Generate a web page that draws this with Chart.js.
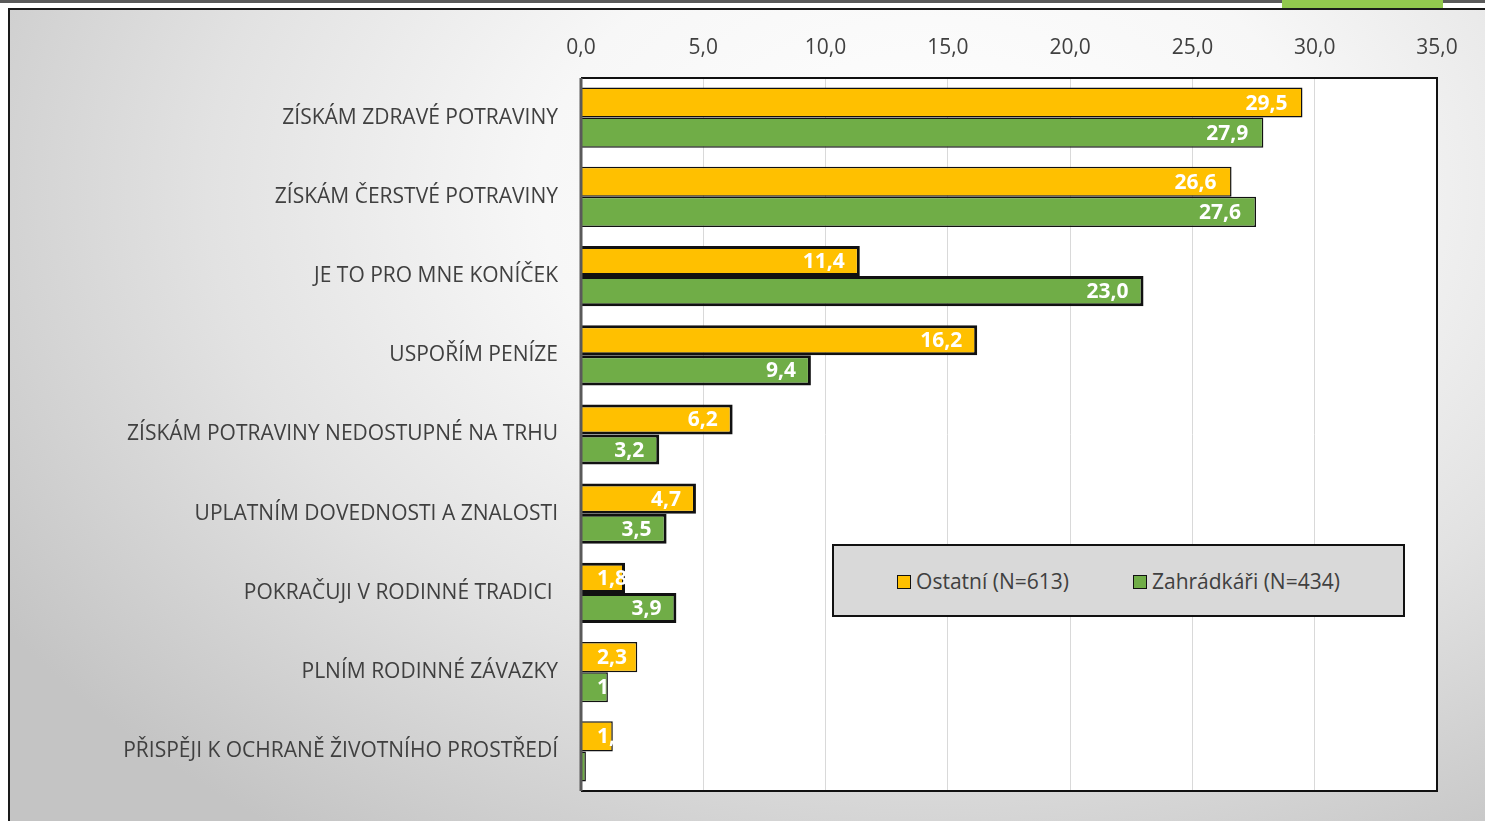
<!DOCTYPE html>
<html>
<head>
<meta charset="utf-8">
<script src="https://cdn.jsdelivr.net/npm/chart.js@4"></script>
<style>
  html, body { margin: 0; padding: 0; width: 1485px; height: 821px; overflow: hidden; background: #fff; }
  #topline { position: absolute; left: 0; top: 0; width: 1485px; height: 3px; background: #5a5a5a; }
  #greenTab { position: absolute; left: 1282px; top: 0; width: 161px; height: 8px; background: #92c84e; }
  #frame {
    position: absolute; left: 8px; top: 8px; width: 1490px; height: 830px;
    border: 2px solid #1a1a1a; box-sizing: border-box;
    background: radial-gradient(ellipse 75% 95% at 62% 22%, #ffffff 0%, #f7f7f7 35%, #e2e2e2 65%, #c4c4c4 100%);
  }
  #wrap { position: absolute; left: 0; top: 0; width: 1485px; height: 821px; }
  #legend {
    position: absolute; left: 832px; top: 544px; width: 573px; height: 73px;
    box-sizing: border-box; border: 2px solid #111; background: #d9d9d9;
    display: flex; align-items: center; justify-content: center; gap: 64px;
    font-family: "Open Sans", sans-serif; font-size: 21px; color: #404040;
  }
  #legend span.box { display: inline-block; width: 12px; height: 12px; border: 1.5px solid #111; margin-right: 5px; vertical-align: 0px; }
</style>
</head>
<body>
<div id="topline"></div>
<div id="greenTab"></div>
<div id="frame"></div>
<div id="wrap"><canvas id="chart" width="1485" height="821"></canvas></div>
<div id="legend"></div>
<script>
// Data
const categories = [
  "ZÍSKÁM ZDRAVÉ POTRAVINY",
  "ZÍSKÁM ČERSTVÉ POTRAVINY",
  "JE TO PRO MNE KONÍČEK",
  "USPOŘÍM PENÍZE",
  "ZÍSKÁM POTRAVINY NEDOSTUPNÉ NA TRHU",
  "UPLATNÍM DOVEDNOSTI A ZNALOSTI",
  "POKRAČUJI V RODINNÉ TRADICI ",
  "PLNÍM RODINNÉ ZÁVAZKY",
  "PŘISPĚJI K OCHRANĚ ŽIVOTNÍHO PROSTŘEDÍ"
];
const ostatni = [29.5, 26.6, 11.4, 16.2, 6.2, 4.7, 1.8, 2.3, 1.3];
const zahradkari = [27.9, 27.6, 23.0, 9.4, 3.2, 3.5, 3.9, 1.1, 0.2];
const seriesNames = ["Ostatní (N=613)", "Zahrádkáři (N=434)"];
const xTicks = [0, 5, 10, 15, 20, 25, 30, 35];

const ORANGE = "#FFC000";
const GREEN = "#70AD47";
const FONT = '"Open Sans", sans-serif';

// plot area white fill + black frame
const plotBox = {
  id: "plotBox",
  beforeDraw(chart) {
    const { ctx, chartArea: a } = chart;
    ctx.save();
    ctx.fillStyle = "#fff";
    ctx.fillRect(a.left, a.top, a.right - a.left, a.bottom - a.top);
    ctx.restore();
  },
  afterDraw(chart) {
    const { ctx, chartArea: a } = chart;
    ctx.save();
    ctx.strokeStyle = "#111";
    ctx.lineWidth = 2;
    ctx.beginPath();
    ctx.moveTo(a.left, a.top);
    ctx.lineTo(a.right, a.top);
    ctx.lineTo(a.right, a.bottom);
    ctx.lineTo(a.left, a.bottom);
    ctx.stroke();
    ctx.strokeStyle = "#5a5a5a";
    ctx.lineWidth = 3;
    ctx.beginPath();
    ctx.moveTo(a.left, a.top);
    ctx.lineTo(a.left, a.bottom);
    ctx.stroke();
    ctx.restore();
  }
};

// value labels, inside end, clipped to bar
const valueLabels = {
  id: "valueLabels",
  afterDatasetsDraw(chart) {
    const { ctx } = chart;
    const x0 = chart.scales.x.getPixelForValue(0);
    ctx.save();
    ctx.font = "bold 21px " + FONT;
    ctx.fillStyle = "#fff";
    ctx.textBaseline = "middle";
    chart.data.datasets.forEach((ds, i) => {
      chart.getDatasetMeta(i).data.forEach((bar, j) => {
        const txt = ds.data[j].toFixed(1).replace(".", ",");
        const w = ctx.measureText(txt).width;
        const tx = Math.max(x0 + 16, bar.x - 15 - w);
        ctx.save();
        ctx.beginPath();
        ctx.rect(x0, bar.y - bar.height / 2, bar.x - x0 + 1, bar.height);
        ctx.clip();
        ctx.textAlign = "left";
        ctx.fillText(txt, tx, bar.y + 1);
        ctx.restore();
      });
    });
    ctx.restore();
  }
};

const thick = c => (c.dataIndex >= 2 && c.dataIndex <= 6 ? 3 : 1.5);

new Chart(document.getElementById("chart"), {
  type: "bar",
  data: {
    labels: categories,
    datasets: [
      { label: seriesNames[0], data: ostatni, backgroundColor: ORANGE, borderColor: "#111", borderWidth: thick, borderSkipped: "start" },
      { label: seriesNames[1], data: zahradkari, backgroundColor: GREEN, borderColor: "#111", borderWidth: thick, borderSkipped: "start" }
    ]
  },
  options: {
    indexAxis: "y",
    responsive: false,
    animation: false,
    layout: { padding: { left: 0, right: 48, top: 0, bottom: 30 } },
    datasets: { bar: { categoryPercentage: 0.76, barPercentage: 1.0 } },
    plugins: { legend: { display: false }, tooltip: { enabled: false } },
    scales: {
      x: {
        position: "top",
        min: 0, max: 35,
        afterBuildTicks: s => { s.ticks = xTicks.map(v => ({ value: v })); },
        afterFit: s => { s.height = 78; },
        ticks: {
          color: "#404040",
          font: { family: FONT, size: 21 },
          padding: 17,
          callback: v => v.toFixed(1).replace(".", ",")
        },
        grid: { color: "#d9d9d9", lineWidth: 1, drawTicks: false },
        border: { display: false }
      },
      y: {
        afterFit: s => { s.width = 581; },
        ticks: {
          color: "#404040",
          font: { family: FONT, size: 21 },
          padding: 15
        },
        grid: { display: false },
        border: { display: false }
      }
    }
  },
  plugins: [plotBox, valueLabels]
});

// legend
const legend = document.getElementById("legend");
[ORANGE, GREEN].forEach((c, i) => {
  const item = document.createElement("div");
  item.innerHTML = `<span class="box" style="background:${c}"></span>${seriesNames[i]}`;
  legend.appendChild(item);
});
</script>
</body>
</html>
